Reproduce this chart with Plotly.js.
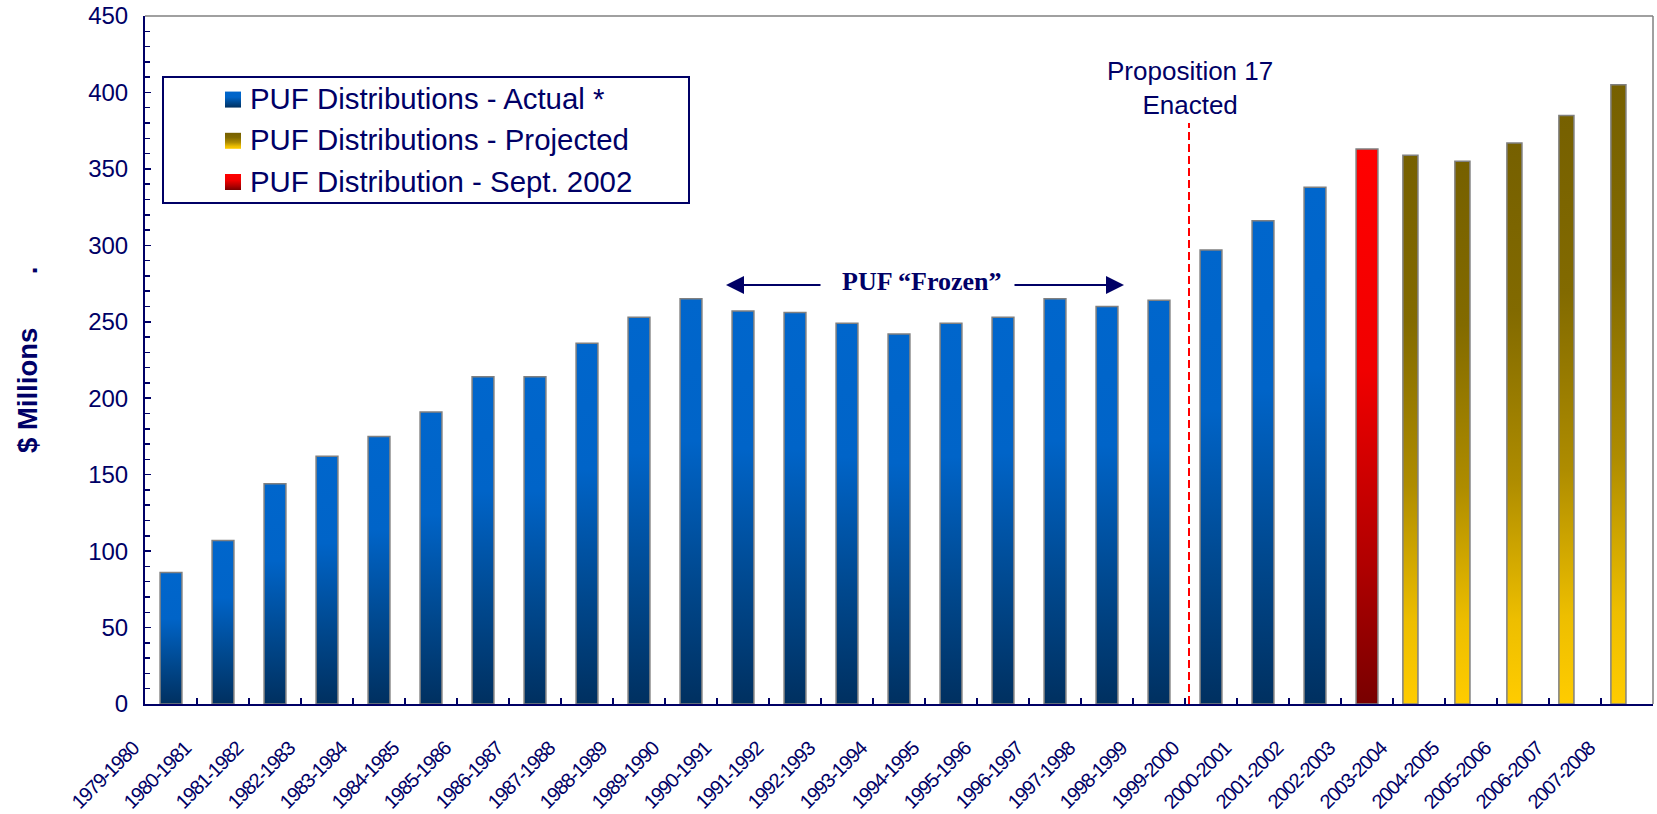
<!DOCTYPE html>
<html>
<head>
<meta charset="utf-8">
<script src="https://cdn.plot.ly/plotly-3.0.1.min.js"></script>
<style>
html,body{margin:0;padding:0;background:#fff;}
#chart{width:1657px;height:814px;}
</style>
</head>
<body>
<div id="chart"></div>
<script>
// ---- data ----
const categories = ["1979-1980","1980-1981","1981-1982","1982-1983","1983-1984","1984-1985","1985-1986","1986-1987","1987-1988","1988-1989","1989-1990","1990-1991","1991-1992","1992-1993","1993-1994","1994-1995","1995-1996","1996-1997","1997-1998","1998-1999","1999-2000","2000-2001","2001-2002","2002-2003","2003-2004","2004-2005","2005-2006","2006-2007","2007-2008"];
const actualYears = categories.slice(0, 23);
const actualValues = [86,107,144,162,175,191,214,214,236,253,265,257,256,249,242,249,253,265,260,264,297,316,338];
const septYears = ["2002-2003"];
const septValues = [363];
const projectedYears = ["2003-2004","2004-2005","2005-2006","2006-2007","2007-2008"];
const projectedValues = [359,355,367,385,405];
const seriesNames = ["PUF Distributions - Actual *","PUF Distributions - Projected","PUF Distribution - Sept. 2002"];
const yTickValues = [0,50,100,150,200,250,300,350,400,450];

const NAVY = '#000066';
const FONT = '"Liberation Sans", Arial, sans-serif';

const traces = [
  {type:'bar', name:seriesNames[0], x:actualYears, y:actualValues,
   width:0.42, marker:{color:'#0066CC', line:{color:'#808080', width:1.5}}},
  {type:'bar', name:seriesNames[1], x:projectedYears, y:projectedValues,
   width:0.29, offset:-0.31, marker:{color:'#A08000', line:{color:'#808080', width:1.5}}},
  {type:'bar', name:seriesNames[2], x:septYears, y:septValues,
   width:0.42, marker:{color:'#FF0000', line:{color:'#808080', width:1.5}}}
];

const px = v => (v - 145) / 1508;
const py = v => (704 - v) / 688;

const layout = {
  width:1657, height:814,
  margin:{l:145, r:4, t:16, b:110},
  paper_bgcolor:'#fff', plot_bgcolor:'#fff',
  barmode:'overlay',
  showlegend:true,
  font:{family:FONT, color:NAVY},
  legend:{x:px(210), y:py(72), xanchor:'left', yanchor:'top',
          bgcolor:'rgba(0,0,0,0)', borderwidth:0,
          traceorder:'normal', font:{size:29.4, color:NAVY, family:FONT}},
  xaxis:{type:'category', categoryorder:'array', categoryarray:categories,
         range:[-0.5, 28.5], tickson:'boundaries', ticks:'inside', ticklen:6,
         tickwidth:1.5, tickcolor:NAVY, showline:true, linecolor:NAVY, linewidth:2,
         showgrid:false, zeroline:false, tickangle:-45, ticklabelshift:-38,
         ticklabelstandoff:23, tickfont:{size:20, color:NAVY, family:FONT}},
  yaxis:{range:[0,450], tickvals:yTickValues, ticktext:yTickValues.map(String),
         ticks:'inside', ticklen:6, tickwidth:1.5, tickcolor:NAVY,
         minor:{dtick:10, ticks:'inside', ticklen:5, tickwidth:1.5, tickcolor:NAVY, showgrid:false},
         showline:true, linecolor:NAVY, linewidth:2, showgrid:false, zeroline:false,
         ticklabelstandoff:10, tickfont:{size:24, color:NAVY, family:FONT}},
  shapes:[
    {type:'line', xref:'paper', yref:'paper', x0:0, x1:1, y0:1, y1:1, line:{color:'#808080', width:1.5}},
    {type:'line', xref:'paper', yref:'paper', x0:1, x1:1, y0:0, y1:1, line:{color:'#808080', width:1.5}},
    {type:'rect', xref:'paper', yref:'paper', x0:px(163), x1:px(689), y0:py(203), y1:py(77),
     line:{color:NAVY, width:2}, fillcolor:'rgba(0,0,0,0)'},
    {type:'line', xref:'paper', yref:'paper', x0:px(1189), x1:px(1189), y0:0, y1:py(123),
     line:{color:'#FF0000', width:2, dash:'8px,4px'}}
  ],
  annotations:[
    {xref:'paper', yref:'paper', x:px(27), y:0.5, xanchor:'center', yanchor:'middle',
     text:'$ Millions\u00A0\u00A0\u00A0\u00A0\u00A0\u00A0\u00A0.',
     textangle:-90, showarrow:false, font:{size:27.5, color:NAVY, family:FONT, weight:'bold'}},
    {xref:'paper', yref:'paper', x:px(922), y:py(281), xanchor:'center', yanchor:'middle',
     text:'<b>PUF \u201CFrozen\u201D</b>',
     showarrow:false, font:{size:26, color:NAVY, family:'"Liberation Serif", "Times New Roman", serif'}},
    {xref:'paper', yref:'paper', x:px(726), y:py(285), text:'', showarrow:true,
     axref:'pixel', ayref:'pixel', ax:96, ay:0, arrowhead:2, arrowsize:1.8, arrowwidth:2, arrowcolor:NAVY, standoff:0},
    {xref:'paper', yref:'paper', x:px(1124), y:py(285), text:'', showarrow:true,
     axref:'pixel', ayref:'pixel', ax:-111, ay:0, arrowhead:2, arrowsize:1.8, arrowwidth:2, arrowcolor:NAVY, standoff:0},
    {xref:'paper', yref:'paper', x:px(1190), y:py(88), xanchor:'center', yanchor:'middle',
     text:'Proposition 17<br>Enacted',
     showarrow:false, font:{size:26, color:NAVY, family:FONT}}
  ]
};

const gradients = {
  gBlue:[[0,'#0066CC'],[0.35,'#0064C8'],[0.7,'#00488E'],[1,'#003060']],
  gYellow:[[0,'#766000'],[0.3,'#826A00'],[0.6,'#AE8C00'],[0.85,'#EDBE00'],[1,'#FFCC00']],
  gRed:[[0,'#FF0000'],[0.4,'#F00000'],[0.75,'#B00000'],[1,'#780000']]
};
const gradOrder = ['gBlue','gYellow','gRed'];

function applyGradients(gd){
  const svgNS = 'http://www.w3.org/2000/svg';
  const svg = gd.querySelector('svg.main-svg');
  const defs = svg.querySelector('defs') || svg.insertBefore(document.createElementNS(svgNS,'defs'), svg.firstChild);
  Object.keys(gradients).forEach(id => {
    const lg = document.createElementNS(svgNS,'linearGradient');
    lg.setAttribute('id', id);
    lg.setAttribute('x1','0'); lg.setAttribute('y1','0');
    lg.setAttribute('x2','0'); lg.setAttribute('y2','1');
    gradients[id].forEach(s => {
      const st = document.createElementNS(svgNS,'stop');
      st.setAttribute('offset', s[0]);
      st.setAttribute('stop-color', s[1]);
      lg.appendChild(st);
    });
    defs.appendChild(lg);
  });
  gd.querySelectorAll('.barlayer .trace').forEach((t,i) => {
    t.querySelectorAll('path').forEach(p => { p.style.fill = 'url(#' + gradOrder[i] + ')'; });
  });
  gd.querySelectorAll('.xtick text').forEach(t => { t.style.letterSpacing = '-1.2px'; });
  gd.querySelectorAll('.legend .traces').forEach((t,i) => {
    const txt = t.querySelector('.legendtext');
    t.querySelectorAll('.legendpoints path').forEach(p => {
      p.setAttribute('d','M-8,-8H8V8H-8Z');
      p.removeAttribute('transform');
      p.style.fill = 'url(#' + gradOrder[i] + ')';
      p.style.stroke = 'none';
      p.style.strokeWidth = '0';
      if (txt) {
        const pr = p.getBoundingClientRect();
        const tr = txt.getBoundingClientRect();
        const cx = pr.left + pr.width / 2;
        const cy = pr.top + pr.height / 2;
        const tcy = tr.top + tr.height / 2 + 1;
        p.setAttribute('transform', 'translate(' + (tr.left - 17 - cx) + ',' + (tcy - cy) + ')');
      }
    });
  });
}

Plotly.newPlot('chart', traces, layout, {staticPlot:true, displayModeBar:false}).then(applyGradients);
</script>
</body>
</html>
